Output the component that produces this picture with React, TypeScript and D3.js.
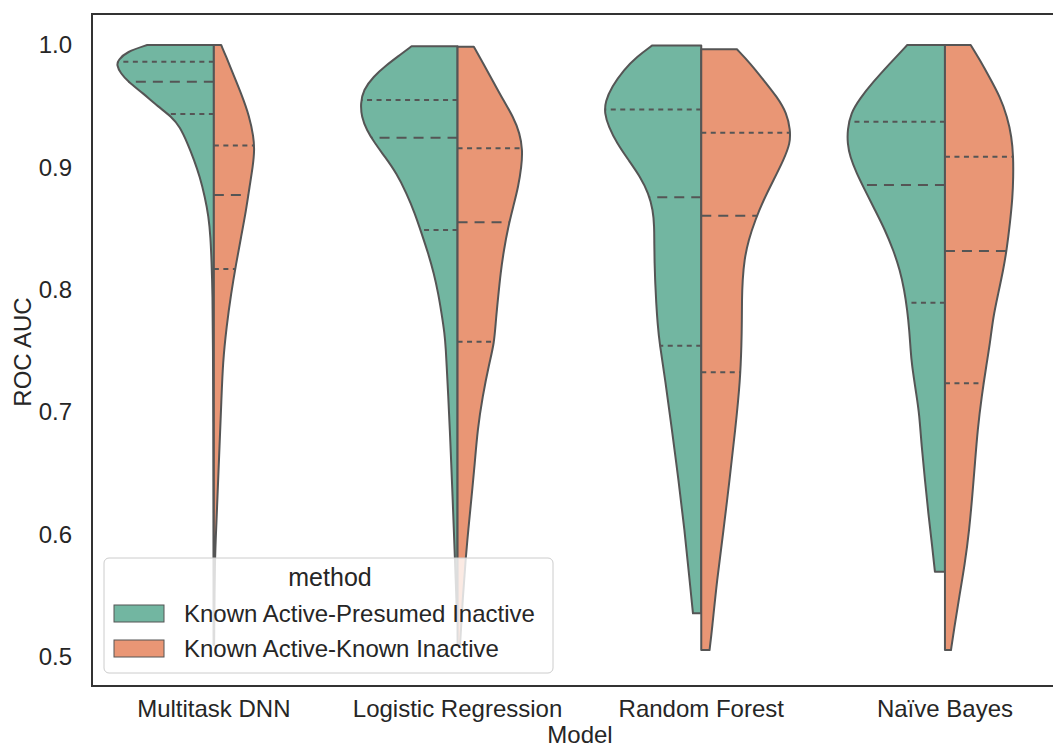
import { useEffect, useRef } from "react";
import * as d3 from "d3";

// categories and hue levels
const models = ["Multitask DNN", "Logistic Regression", "Random Forest", "Naïve Bayes"];
const methods = ["Known Active-Presumed Inactive", "Known Active-Known Inactive"];
const yTicks = [0.5, 0.6, 0.7, 0.8, 0.9, 1.0];

// density profiles: [roc auc, relative density]
const dnnPresumed = [
  [1.0, 0.684], [0.9945, 0.895], [0.9877, 0.981], [0.9837, 0.998], [0.977, 0.957],
  [0.97, 0.879], [0.9605, 0.725], [0.9496, 0.571], [0.9414, 0.434], [0.9333, 0.349],
  [0.9197, 0.27], [0.906, 0.202], [0.8924, 0.144], [0.876, 0.092], [0.86, 0.054],
  [0.843, 0.034], [0.824, 0.024], [0.797, 0.013], [0.75, 0.009], [0.7, 0.006],
  [0.6, 0.003], [0.51, 0.002],
];
const dnnKnown = [
  [1.0, 0.075], [0.9905, 0.126], [0.9768, 0.195], [0.9605, 0.28], [0.9414, 0.366],
  [0.925, 0.407], [0.9142, 0.417], [0.9006, 0.4], [0.8842, 0.366], [0.8652, 0.331],
  [0.8434, 0.28], [0.8216, 0.229], [0.7971, 0.177], [0.7699, 0.13], [0.74, 0.092],
  [0.7127, 0.079], [0.6585, 0.051], [0.6037, 0.024], [0.582, 0.01], [0.51, 0.003],
];
const lrPresumed = [
  [0.999, 0.472], [0.9918, 0.592], [0.9837, 0.728], [0.9741, 0.865], [0.9632, 0.967],
  [0.9523, 0.995], [0.9414, 0.985], [0.9306, 0.933], [0.9197, 0.848], [0.9088, 0.746],
  [0.8952, 0.626], [0.8788, 0.523], [0.8625, 0.438], [0.8461, 0.369], [0.8298, 0.301],
  [0.8135, 0.243], [0.7971, 0.198], [0.7808, 0.164], [0.7645, 0.133], [0.7508, 0.12],
  [0.74, 0.113], [0.7127, 0.095], [0.6855, 0.079], [0.6585, 0.065], [0.631, 0.051],
  [0.6037, 0.038], [0.582, 0.028], [0.555, 0.015], [0.53, 0.005],
];
const lrKnown = [
  [0.9986, 0.167], [0.985, 0.264], [0.97, 0.366], [0.955, 0.469], [0.9414, 0.571],
  [0.9278, 0.639], [0.9142, 0.667], [0.9006, 0.656], [0.8842, 0.623], [0.8679, 0.571],
  [0.8516, 0.52], [0.8325, 0.475], [0.8135, 0.441], [0.7944, 0.417], [0.7753, 0.393],
  [0.7563, 0.376], [0.74, 0.325], [0.7127, 0.256], [0.6855, 0.205], [0.6585, 0.177],
  [0.631, 0.144], [0.6037, 0.11], [0.582, 0.085], [0.55, 0.055], [0.51, 0.026],
];
const rfPresumed = [
  [0.9995, 0.506], [0.9905, 0.659], [0.9796, 0.797], [0.966, 0.916], [0.9537, 0.985],
  [0.9442, 0.992], [0.9333, 0.951], [0.9197, 0.865], [0.906, 0.746], [0.8924, 0.626],
  [0.8788, 0.541], [0.8652, 0.495], [0.8516, 0.482], [0.838, 0.482], [0.8216, 0.479],
  [0.8053, 0.472], [0.789, 0.462], [0.7726, 0.448], [0.7563, 0.428], [0.7263, 0.369],
  [0.6855, 0.301], [0.6446, 0.233], [0.6037, 0.171], [0.5629, 0.12], [0.5357, 0.085],
];
const rfKnown = [
  [0.9965, 0.366], [0.985, 0.503], [0.9714, 0.639], [0.9578, 0.776], [0.9442, 0.879],
  [0.9306, 0.913], [0.9197, 0.913], [0.906, 0.844], [0.8897, 0.742], [0.8734, 0.639],
  [0.857, 0.554], [0.8407, 0.485], [0.8243, 0.441], [0.808, 0.424], [0.7917, 0.417],
  [0.7753, 0.417], [0.7563, 0.413], [0.7263, 0.4], [0.6855, 0.349], [0.6446, 0.29],
  [0.6037, 0.229], [0.5629, 0.161], [0.522, 0.11], [0.5057, 0.085],
];
const nbPresumed = [
  [1.0, 0.387], [0.985, 0.564], [0.97, 0.735], [0.9564, 0.872], [0.9442, 0.967],
  [0.9306, 1.0], [0.9197, 1.0], [0.9088, 0.974], [0.8952, 0.906], [0.8815, 0.821],
  [0.8652, 0.718], [0.8489, 0.615], [0.8325, 0.53], [0.8162, 0.462], [0.7998, 0.417],
  [0.7835, 0.387], [0.7672, 0.366], [0.7508, 0.352], [0.74, 0.342], [0.7127, 0.29],
  [0.699, 0.264], [0.6718, 0.239], [0.6446, 0.205], [0.6174, 0.171], [0.5901, 0.13],
  [0.5697, 0.103],
];
const nbKnown = [
  [1.0, 0.264], [0.9877, 0.359], [0.9728, 0.462], [0.9578, 0.564], [0.9414, 0.639],
  [0.925, 0.684], [0.9088, 0.701], [0.8924, 0.701], [0.876, 0.694], [0.8543, 0.667],
  [0.8325, 0.633], [0.8162, 0.598], [0.7971, 0.547], [0.778, 0.495], [0.7563, 0.462],
  [0.74, 0.428], [0.7127, 0.376], [0.6855, 0.335], [0.6585, 0.308], [0.631, 0.28],
  [0.6037, 0.249], [0.5765, 0.205], [0.5493, 0.147], [0.522, 0.092], [0.5057, 0.062],
];

// quartiles [q1, median, q3]
const presumedQuartiles = [
  [0.9436, 0.97, 0.9864],
  [0.8489, 0.9243, 0.955],
  [0.7543, 0.8756, 0.9474],
  [0.7895, 0.8856, 0.9373],
];
const knownQuartiles = [
  [0.817, 0.8775, 0.9178],
  [0.7576, 0.8551, 0.9156],
  [0.7326, 0.8606, 0.9284],
  [0.7236, 0.8317, 0.9088],
];

const presumedProfiles = [dnnPresumed, lrPresumed, rfPresumed, nbPresumed];
const knownProfiles = [dnnKnown, lrKnown, rfKnown, nbKnown];

const W = 1053,
  H = 749;
const FONT = "'Liberation Sans', Arial, sans-serif";
const colors = ["#72b6a1", "#e99675"];
const edge = "#555555";

// interpolate the profile's density at value v
const densityAt = (profile: number[][], v: number) => {
  const asc = [...profile].sort((a, b) => a[0] - b[0]);
  const xs = asc.map((d) => d[0]);
  const i = d3.bisectLeft(xs, v);
  if (i <= 0) return asc[0][1];
  if (i >= asc.length) return asc[asc.length - 1][1];
  const [v0, d0] = asc[i - 1];
  const [v1, d1] = asc[i];
  return d0 + ((d1 - d0) * (v - v0)) / (v1 - v0);
};

const App = () => {
  const svgRef = useRef<SVGSVGElement | null>(null);

  useEffect(() => {
    const svg = d3.select(svgRef.current);
    svg.selectAll("*").remove();

    const left = 92,
      top = 14,
      bottom = 686;
    const step = 243.7;

    const x = d3
      .scaleBand()
      .domain(models)
      .range([left, left + step * models.length])
      .padding(0);
    const y = d3.scaleLinear().domain([0.5, 1.0]).range([657, 45]);
    const wScale = d3.scaleLinear().domain([0, 1]).range([0, x.bandwidth() * 0.4]);

    const g = svg.append("g");

    const halves = [
      { profiles: presumedProfiles, quart: presumedQuartiles, sign: -1, color: colors[0] },
      { profiles: knownProfiles, quart: knownQuartiles, sign: 1, color: colors[1] },
    ];

    models.forEach((m, mi) => {
      const cx = x(m)! + x.bandwidth() / 2;
      halves.forEach((h) => {
        const prof = h.profiles[mi];
        const area = d3
          .area<number[]>()
          .y((d) => y(d[0]))
          .x0(cx)
          .x1((d) => cx + h.sign * wScale(d[1]))
          .curve(d3.curveBasis);
        g.append("path")
          .attr("d", area(prof)!)
          .attr("fill", h.color)
          .attr("stroke", edge)
          .attr("stroke-width", 2)
          .attr("stroke-linejoin", "round");

        h.quart[mi].forEach((q, qi) => {
          const w = wScale(densityAt(prof, q));
          g.append("line")
            .attr("x1", cx)
            .attr("x2", cx + h.sign * w)
            .attr("y1", y(q))
            .attr("y2", y(q))
            .attr("stroke", edge)
            .attr("stroke-width", 2)
            .attr("stroke-dasharray", qi === 1 ? "10,7" : "5,4.5");
        });
      });
    });

    // frame
    svg
      .append("rect")
      .attr("x", left)
      .attr("y", top)
      .attr("width", step * models.length)
      .attr("height", bottom - top)
      .attr("fill", "none")
      .attr("stroke", "#333")
      .attr("stroke-width", 2);

    // axes
    const yAxis = svg
      .append("g")
      .attr("transform", `translate(${left},0)`)
      .call(d3.axisLeft(y).tickValues(yTicks).tickSize(0).tickPadding(20).tickFormat(d3.format(".1f")));
    yAxis.select(".domain").remove();
    yAxis.selectAll("text").attr("font-size", 24).attr("font-family", FONT).attr("fill", "#262626");

    const xAxis = svg
      .append("g")
      .attr("transform", `translate(0,${bottom})`)
      .call(d3.axisBottom(x).tickSize(0).tickPadding(14));
    xAxis.select(".domain").remove();
    xAxis.selectAll("text").attr("font-size", 24).attr("font-family", FONT).attr("fill", "#262626");

    svg
      .append("text")
      .attr("transform", "translate(31,352) rotate(-90)")
      .attr("text-anchor", "middle")
      .attr("font-size", 24)
      .attr("font-family", FONT)
      .attr("fill", "#262626")
      .text("ROC AUC");
    svg
      .append("text")
      .attr("x", 580)
      .attr("y", 743)
      .attr("text-anchor", "middle")
      .attr("font-size", 24)
      .attr("font-family", FONT)
      .attr("fill", "#262626")
      .text("Model");

    // legend
    const lg = svg.append("g").attr("transform", "translate(104,558)");
    lg.append("rect")
      .attr("width", 449)
      .attr("height", 115)
      .attr("rx", 5)
      .attr("fill", "white")
      .attr("fill-opacity", 0.8)
      .attr("stroke", "#cccccc")
      .attr("stroke-width", 1);
    lg.append("text")
      .attr("x", 226)
      .attr("y", 28)
      .attr("text-anchor", "middle")
      .attr("font-size", 25)
      .attr("font-family", FONT)
      .attr("fill", "#262626")
      .text("method");
    methods.forEach((name, i) => {
      lg.append("rect")
        .attr("x", 10)
        .attr("y", 47 + i * 35)
        .attr("width", 50)
        .attr("height", 17)
        .attr("fill", colors[i])
        .attr("stroke", edge)
        .attr("stroke-width", 1);
      lg.append("text")
        .attr("x", 80)
        .attr("y", 64 + i * 35)
        .attr("font-size", 24)
        .attr("font-family", FONT)
        .attr("fill", "#262626")
        .text(name);
    });
  }, []);

  return (
    <svg
      ref={svgRef}
      width={W}
      height={H}
      style={{ position: "absolute", left: 0, top: 0, background: "white" }}
    ></svg>
  );
};

export default App;
